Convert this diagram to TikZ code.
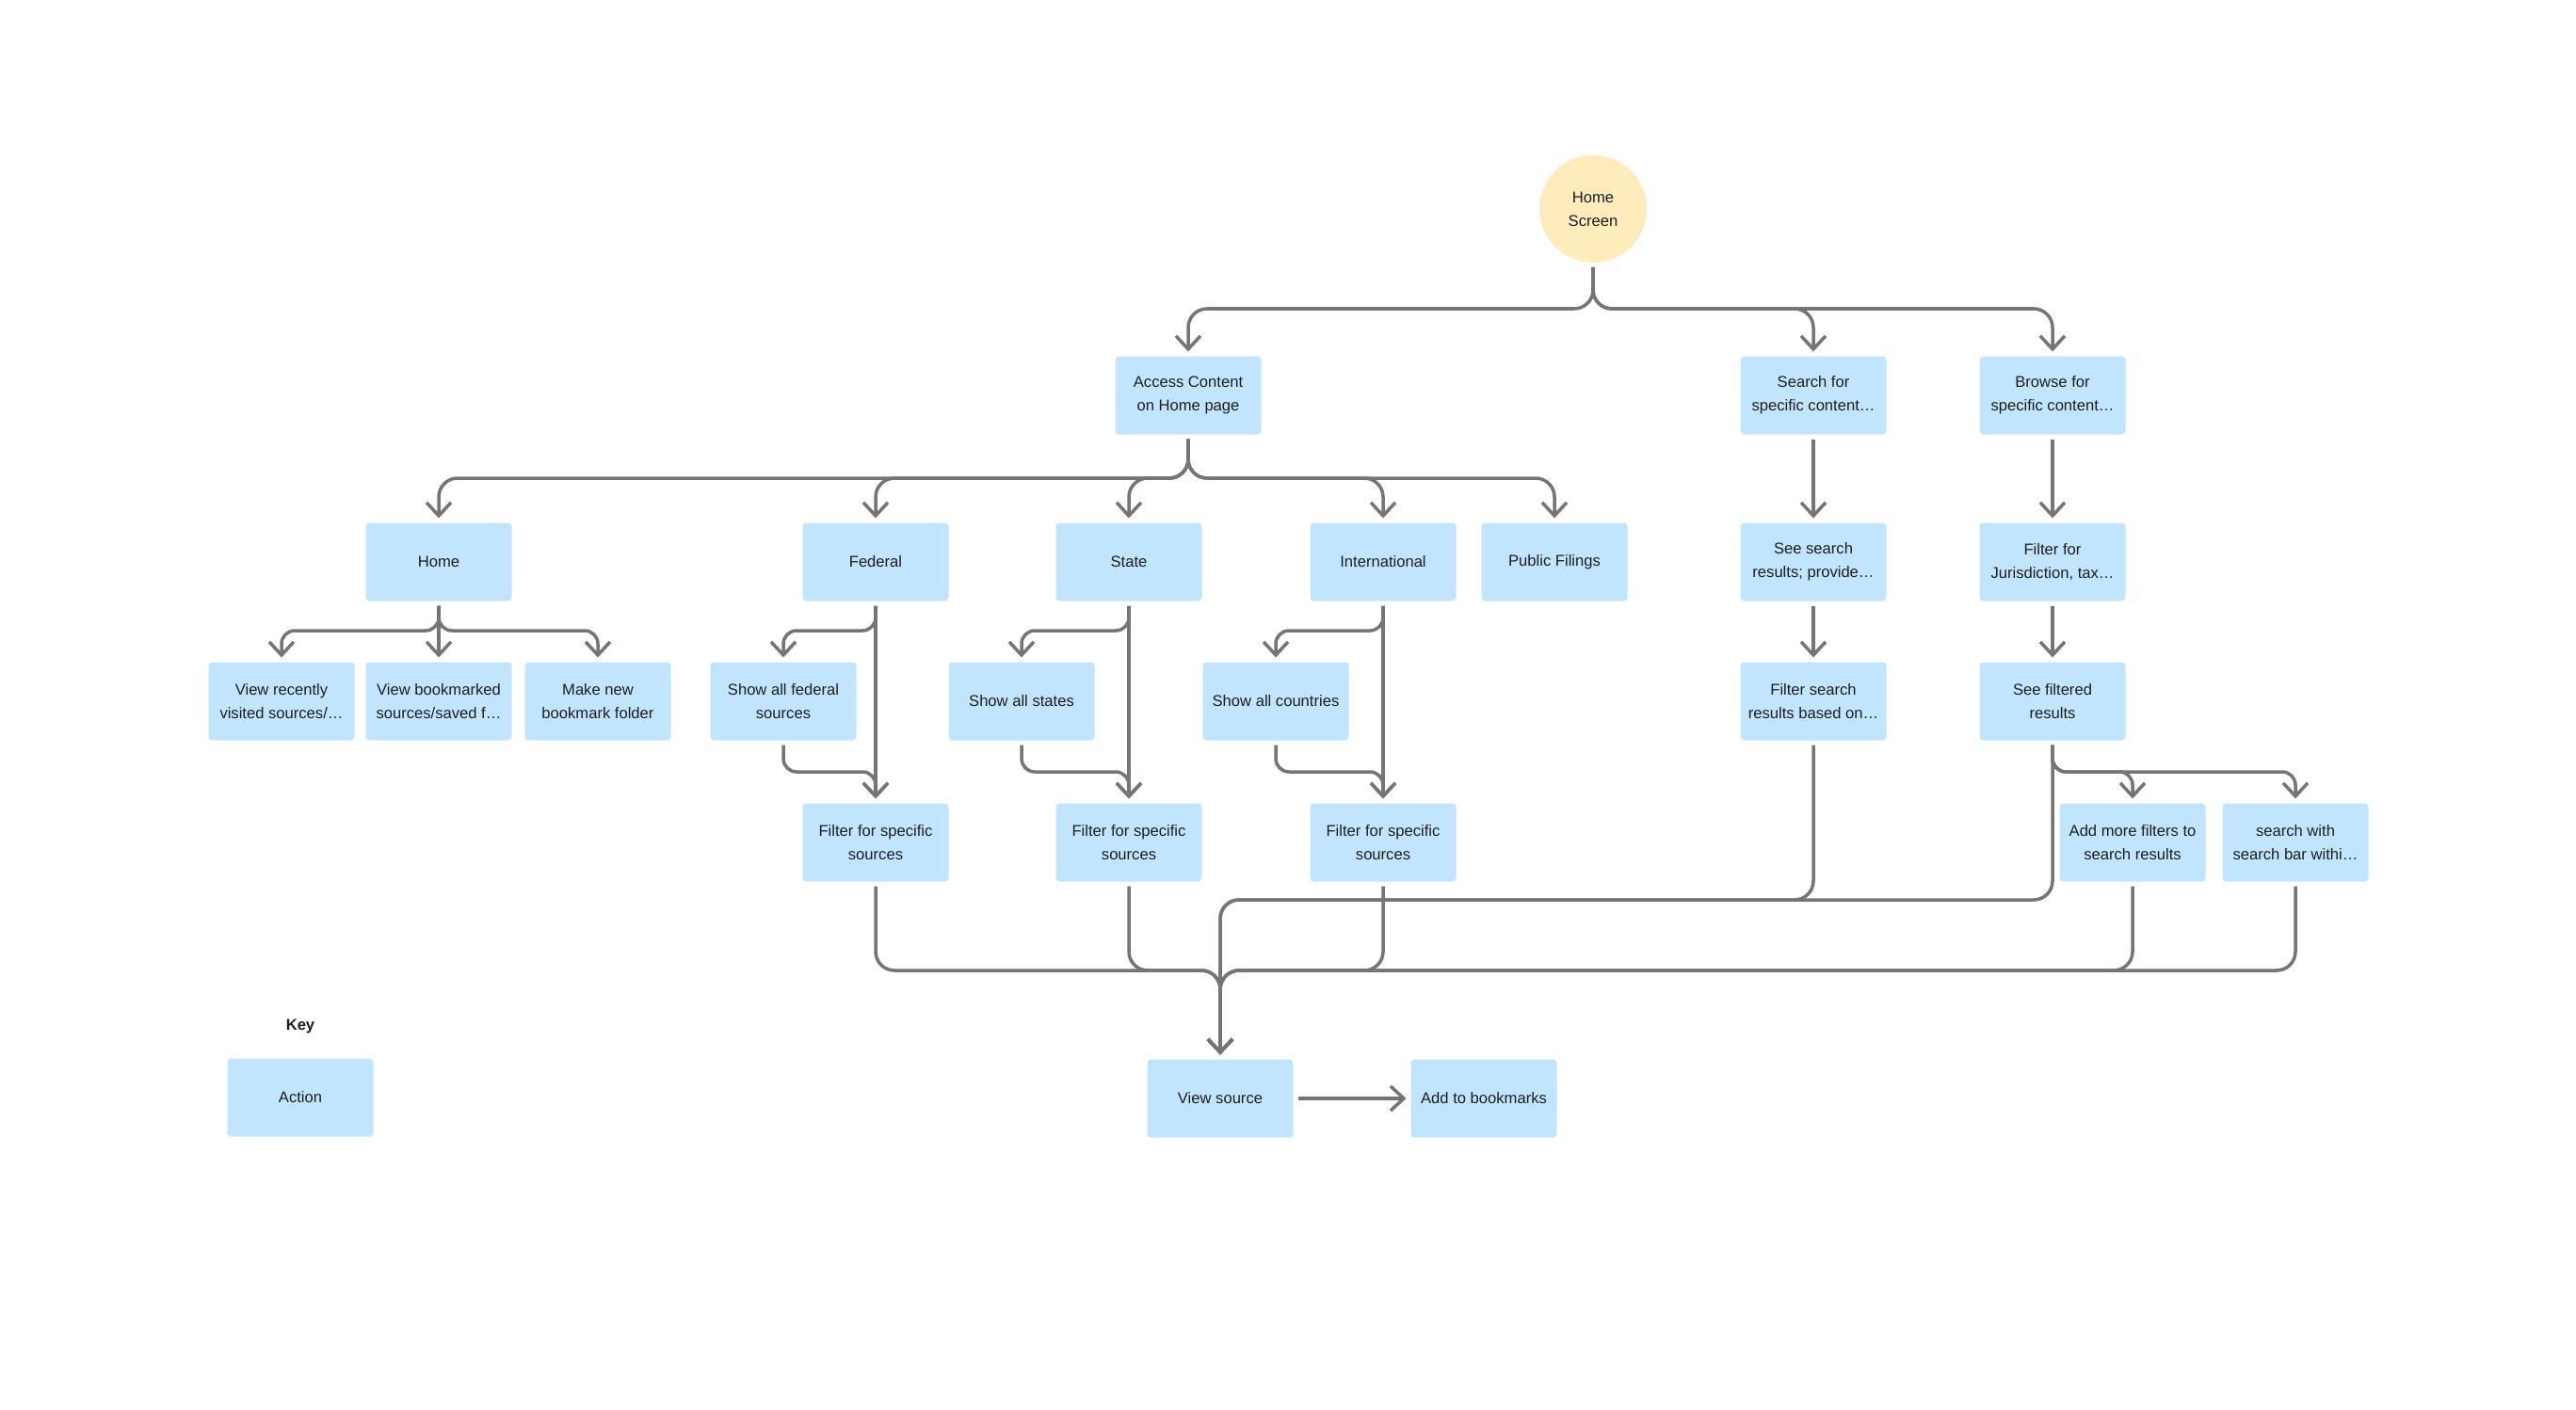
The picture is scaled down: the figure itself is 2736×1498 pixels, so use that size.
\documentclass[tikz,border=0pt]{standalone}
\usepackage{fontspec}
\setmainfont{Liberation Sans}
\usetikzlibrary{arrows.meta}
\definecolor{boxblue}{HTML}{C2E5FF}
\definecolor{hsyellow}{HTML}{FFECBD}
\definecolor{linegray}{HTML}{757575}
\definecolor{txt}{HTML}{1E1E1E}
\tikzset{
  box/.style={fill=boxblue, rounded corners=2pt, minimum width=77.5pt, minimum height=41.5pt,
    inner sep=0pt, outer sep=2.5pt, align=center, text=txt, font=\fontsize{8.3}{12.5}\selectfont},
  startcircle/.style={circle, fill=hsyellow, minimum size=57pt, inner sep=0pt, outer sep=2.5pt,
    align=center, text=txt, font=\fontsize{8.3}{12.5}\selectfont},
  keylabel/.style={text=txt, font=\bfseries\fontsize{8.3}{10}\selectfont},
  conn/.style={draw=linegray, line width=1.75pt, rounded corners=10pt,
    -{Straight Barb[length=7pt,width=13pt]}},
  connshort/.style={conn, rounded corners=7pt},
}
\begin{document}
\begin{tikzpicture}[x=0.5pt,y=-0.5pt]
\fill[white] (0,0) rectangle (2736,1498);
\useasboundingbox (0,0) rectangle (2736,1498);

% level coordinates
\coordinate (l1) at (0,328);
\coordinate (l2) at (0,508);
\coordinate (l3) at (0,670);
\coordinate (l4) at (0,820);
\coordinate (l5) at (0,956);
\coordinate (l6) at (0,1031);

% nodes
\node[startcircle] (hs) at (1692,222) {Home\\Screen};
\node[box] (ac) at (1262,420) {Access Content\\on Home page};
\node[box] (sf) at (1926,420) {Search for\\specific content…};
\node[box] (bf) at (2180,420) {Browse for\\specific content…};

\node[box] (home) at (466,597) {Home};
\node[box] (fed) at (930,597) {Federal};
\node[box] (st) at (1199,597) {State};
\node[box] (intl) at (1469,597) {International};
\node[box] (pub) at (1651,597) {Public Filings};
\node[box] (ss) at (1926,597) {See search\\results; provide…};
\node[box] (fj) at (2180,597) {Filter for\\Jurisdiction, tax…};

\node[box] (vr) at (299,745) {View recently\\visited sources/…};
\node[box] (vb) at (466,745) {View bookmarked\\sources/saved f…};
\node[box] (mn) at (635,745) {Make new\\bookmark folder};
\node[box] (saf) at (832,745) {Show all federal\\sources};
\node[box] (sas) at (1085,745) {Show all states};
\node[box] (sac) at (1355,745) {Show all countries};
\node[box] (fsr) at (1926,745) {Filter search\\results based on…};
\node[box] (sfr) at (2180,745) {See filtered\\results};

\node[box] (ff1) at (930,895) {Filter for specific\\sources};
\node[box] (ff2) at (1199,895) {Filter for specific\\sources};
\node[box] (ff3) at (1469,895) {Filter for specific\\sources};
\node[box] (am) at (2265,895) {Add more filters to\\search results};
\node[box] (sw) at (2438,895) {search with\\search bar withi…};

\node[box] (vs) at (1296,1167) {View source};
\node[box] (ab) at (1576,1167) {Add to bookmarks};

\node[keylabel] (key) at (319,1091) {Key};
\node[box] (act) at (319,1166) {Action};

% connectors: Home Screen
\draw[conn] (hs.south) -- (hs.south |- l1) -- (ac.north |- l1) -- (ac.north);
\draw[conn] (hs.south) -- (hs.south |- l1) -- (sf.north |- l1) -- (sf.north);
\draw[conn] (hs.south) -- (hs.south |- l1) -- (bf.north |- l1) -- (bf.north);

% Access Content
\draw[conn] (ac.south) -- (ac.south |- l2) -- (home.north |- l2) -- (home.north);
\draw[conn] (ac.south) -- (ac.south |- l2) -- (fed.north |- l2) -- (fed.north);
\draw[conn] (ac.south) -- (ac.south |- l2) -- (st.north |- l2) -- (st.north);
\draw[conn] (ac.south) -- (ac.south |- l2) -- (intl.north |- l2) -- (intl.north);
\draw[conn] (ac.south) -- (ac.south |- l2) -- (pub.north |- l2) -- (pub.north);

% Home
\draw[connshort] (home.south) -- (home.south |- l3) -- (vr.north |- l3) -- (vr.north);
\draw[conn] (home.south) -- (vb.north);
\draw[connshort] (home.south) -- (home.south |- l3) -- (mn.north |- l3) -- (mn.north);

% Federal / State / International
\draw[connshort] (fed.south) -- (fed.south |- l3) -- (saf.north |- l3) -- (saf.north);
\draw[conn] (fed.south) -- (ff1.north);
\draw[connshort] (st.south) -- (st.south |- l3) -- (sas.north |- l3) -- (sas.north);
\draw[conn] (st.south) -- (ff2.north);
\draw[connshort] (intl.south) -- (intl.south |- l3) -- (sac.north |- l3) -- (sac.north);
\draw[conn] (intl.south) -- (ff3.north);

\draw[connshort] (saf.south) -- (saf.south |- l4) -- (ff1.north |- l4) -- (ff1.north);
\draw[connshort] (sas.south) -- (sas.south |- l4) -- (ff2.north |- l4) -- (ff2.north);
\draw[connshort] (sac.south) -- (sac.south |- l4) -- (ff3.north |- l4) -- (ff3.north);

% Search / Browse columns
\draw[conn] (sf.south) -- (ss.north);
\draw[conn] (ss.south) -- (fsr.north);
\draw[conn] (bf.south) -- (fj.north);
\draw[conn] (fj.south) -- (sfr.north);
\draw[connshort] (sfr.south) -- (sfr.south |- l4) -- (am.north |- l4) -- (am.north);
\draw[connshort] (sfr.south) -- (sfr.south |- l4) -- (sw.north |- l4) -- (sw.north);

% to View source
\draw[conn] (fsr.south) -- (fsr.south |- l5) -- (vs.north |- l5) -- (vs.north);
\draw[conn] (sfr.south) -- (sfr.south |- l5) -- (vs.north |- l5) -- (vs.north);
\draw[conn] (ff1.south) -- (ff1.south |- l6) -- (vs.north |- l6) -- (vs.north);
\draw[conn] (ff2.south) -- (ff2.south |- l6) -- (vs.north |- l6) -- (vs.north);
\draw[conn] (ff3.south) -- (ff3.south |- l6) -- (vs.north |- l6) -- (vs.north);
\draw[conn] (am.south) -- (am.south |- l6) -- (vs.north |- l6) -- (vs.north);
\draw[conn] (sw.south) -- (sw.south |- l6) -- (vs.north |- l6) -- (vs.north);

\draw[conn] (vs.east) -- (ab.west);
\end{tikzpicture}
\end{document}
